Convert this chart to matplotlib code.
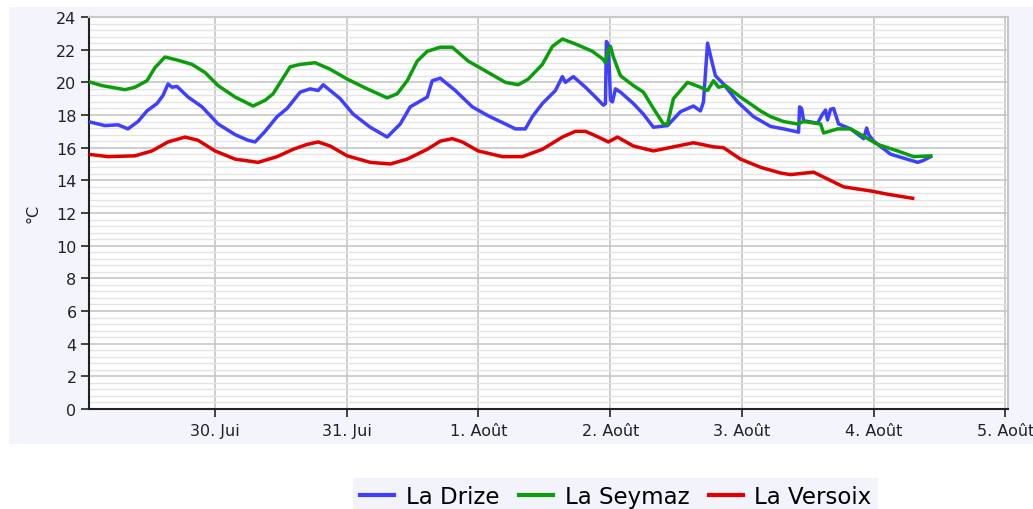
#!/usr/bin/env python3
"""Températures des rivières genevoises, 29 juin - 4 août."""
import numpy as np
import matplotlib
matplotlib.use("Agg")
import matplotlib.pyplot as plt
from matplotlib.patches import Rectangle
from matplotlib.ticker import MultipleLocator

# temps en jours depuis le 29 juin 00:00
drize_t = [0.035, 0.164, 0.263, 0.339, 0.415, 0.483, 0.559, 0.605, 0.643, 0.673,
           0.711, 0.795, 0.901, 1.023, 1.152, 1.251, 1.304, 1.380, 1.471, 1.547,
           1.646, 1.722, 1.783, 1.821, 1.950, 2.049, 2.178, 2.307, 2.406, 2.482,
           2.611, 2.649, 2.710, 2.725, 2.824, 2.953, 3.074, 3.204, 3.280, 3.356,
           3.409, 3.485, 3.584, 3.637, 3.660, 3.720, 3.812, 3.888, 3.948, 3.964,
           3.971, 3.986, 4.002, 4.017, 4.040, 4.078, 4.176, 4.252, 4.328, 4.435,
           4.533, 4.632, 4.685, 4.708, 4.739, 4.777, 4.799, 4.860, 4.967, 5.088,
           5.217, 5.316, 5.430, 5.438, 5.453, 5.468, 5.574, 5.612, 5.635, 5.650,
           5.673, 5.696, 5.734, 5.825, 5.924, 5.947, 5.962, 6.000, 6.129, 6.334,
           6.372, 6.433]
drize_v = [17.6, 17.35, 17.4, 17.15, 17.6, 18.25, 18.7, 19.2, 19.9, 19.7,
           19.75, 19.1, 18.5, 17.45, 16.8, 16.45, 16.35, 17.0, 17.9, 18.4,
           19.4, 19.6, 19.5, 19.85, 19.0, 18.05, 17.25, 16.65, 17.45, 18.5,
           19.1, 20.1, 20.25, 20.15, 19.5, 18.5, 17.95, 17.45, 17.15, 17.15,
           17.9, 18.7, 19.5, 20.35, 20.0, 20.35, 19.7, 19.1, 18.6, 18.7,
           22.5, 22.3, 18.9, 18.8, 19.6, 19.4, 18.7, 18.05, 17.25, 17.35,
           18.2, 18.55, 18.25, 18.8, 22.4, 21.1, 20.4, 19.9, 18.8, 17.9,
           17.3, 17.15, 16.95, 18.5, 18.4, 17.65, 17.5, 18.05, 18.3, 17.7,
           18.35, 18.4, 17.45, 17.15, 16.55, 17.2, 16.8, 16.4, 15.6, 15.1,
           15.2, 15.45]

seymaz_t = [0.035, 0.141, 0.316, 0.392, 0.483, 0.544, 0.620, 0.719, 0.825, 0.924,
            1.023, 1.152, 1.289, 1.380, 1.441, 1.570, 1.646, 1.760, 1.874, 2.003,
            2.155, 2.307, 2.383, 2.459, 2.535, 2.611, 2.710, 2.801, 2.922, 3.074,
            3.204, 3.302, 3.378, 3.485, 3.561, 3.637, 3.736, 3.865, 3.948, 3.964,
            3.986, 4.002, 4.024, 4.078, 4.176, 4.252, 4.328, 4.404, 4.435, 4.480,
            4.587, 4.685, 4.739, 4.784, 4.822, 4.875, 4.989, 5.141, 5.217, 5.316,
            5.422, 5.468, 5.597, 5.620, 5.726, 5.825, 5.924, 6.030, 6.182, 6.304,
            6.433]
seymaz_v = [20.05, 19.8, 19.55, 19.7, 20.1, 20.9, 21.55, 21.35, 21.1, 20.6,
            19.8, 19.1, 18.55, 18.9, 19.3, 20.95, 21.1, 21.2, 20.8, 20.2,
            19.6, 19.05, 19.3, 20.1, 21.3, 21.9, 22.15, 22.15, 21.3, 20.6,
            20.0, 19.85, 20.2, 21.1, 22.2, 22.65, 22.35, 21.9, 21.4, 21.2,
            22.0, 22.2, 21.55, 20.4, 19.8, 19.4, 18.4, 17.45, 17.45, 19.0,
            20.0, 19.7, 19.5, 20.1, 19.7, 19.8, 19.1, 18.25, 17.9, 17.6,
            17.45, 17.6, 17.45, 16.9, 17.15, 17.15, 16.7, 16.2, 15.8, 15.45,
            15.5]

versoix_t = [0.035, 0.187, 0.392, 0.521, 0.643, 0.772, 0.871, 1.000, 1.152, 1.327,
             1.471, 1.593, 1.699, 1.783, 1.874, 2.003, 2.178, 2.330, 2.459, 2.611,
             2.710, 2.801, 2.877, 2.998, 3.181, 3.333, 3.485, 3.637, 3.736, 3.812,
             3.910, 3.986, 4.055, 4.176, 4.328, 4.480, 4.632, 4.784, 4.860, 4.989,
             5.141, 5.293, 5.369, 5.544, 5.772, 5.977, 6.106, 6.296]
versoix_v = [15.6, 15.45, 15.5, 15.8, 16.35, 16.65, 16.45, 15.8, 15.3, 15.1,
             15.45, 15.9, 16.2, 16.35, 16.1, 15.5, 15.1, 15.0, 15.3, 15.9,
             16.4, 16.55, 16.35, 15.8, 15.45, 15.45, 15.9, 16.65, 17.0, 17.0,
             16.65, 16.35, 16.65, 16.1, 15.8, 16.05, 16.3, 16.05, 16.0, 15.3,
             14.8, 14.45, 14.35, 14.5, 13.6, 13.35, 13.15, 12.9]

day_ticks = [1, 2, 3, 4, 5, 6, 7]
day_labels = ["30. Jui", "31. Jui", "1. Août", "2. Août", "3. Août", "4. Août", "5. Août"]

series = [
    ("La Drize", drize_t, drize_v, "#3f3fff"),
    ("La Seymaz", seymaz_t, seymaz_v, "#0a9e0a"),
    ("La Versoix", versoix_t, versoix_v, "#e00000"),
]

W, H = 1033, 510
fig = plt.figure(figsize=(W / 100, H / 100), dpi=100)
fig.patch.set_facecolor("white")
fig.patches.append(Rectangle((9 / W, 1 - 445 / H), (W - 9) / W, (445 - 8) / H,
                             transform=fig.transFigure, facecolor="#f3f4fc",
                             edgecolor="none", zorder=-1))

ax = fig.add_axes([89 / W, 1 - 410 / H, (1008 - 89) / W, (410 - 18) / H])
ax.set_zorder(2)
ax.set_facecolor("white")

for name, t, v, c in series:
    ax.plot(t, v, color=c, lw=2.5, label=name, solid_joinstyle="round", zorder=3)

ax.set_xlim(0.043, 7.02)
ax.set_ylim(0, 24)
ax.yaxis.set_major_locator(MultipleLocator(2))
ax.yaxis.set_minor_locator(MultipleLocator(0.4))
ax.set_xticks(day_ticks)
ax.set_xticklabels(day_labels)

ax.grid(which="minor", axis="y", color="#e4e4e4", lw=1.0)
ax.grid(which="major", axis="y", color="#c6c6c6", lw=1.2)
ax.grid(which="major", axis="x", color="#c6c6c6", lw=1.2)
ax.set_axisbelow(True)

ax.tick_params(axis="y", which="minor", length=0)
ax.tick_params(axis="both", which="major", length=6, width=1.2, colors="#222222",
               labelsize=11.5, pad=3)
ax.tick_params(axis="x", pad=4)

for s in ("left", "bottom"):
    ax.spines[s].set_color("#222222")
    ax.spines[s].set_linewidth(1.5)
for s in ("top", "right"):
    ax.spines[s].set_color("#c8c8c8")
    ax.spines[s].set_linewidth(1.5)

fig.text(33 / W, 1 - 213 / H, "°C", rotation=90, ha="center", va="center",
         fontsize=11.5, color="#222222")

leg = fig.legend(loc="upper left", bbox_to_anchor=(353 / W, 1 - 479 / H), ncol=3,
                 fontsize=16.5, frameon=True, facecolor="#f1f1fb", edgecolor="none",
                 fancybox=False, handlelength=1.5, handletextpad=0.5,
                 columnspacing=0.85, borderpad=0.3, borderaxespad=0)
for line in leg.get_lines():
    line.set_linewidth(3)

fig.savefig("out.png", dpi=100)
